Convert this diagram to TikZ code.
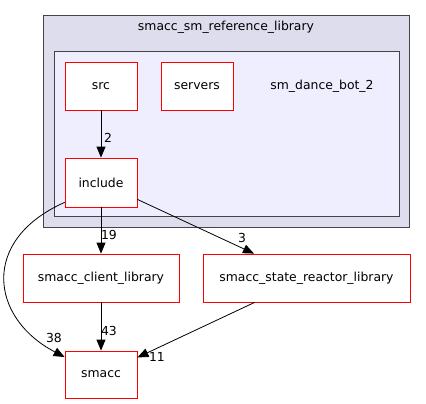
\documentclass[tikz,border=0pt]{standalone}
\usepackage{fontspec}
\setmainfont{DejaVu Sans}
\usetikzlibrary{arrows.meta}
\definecolor{outerfill}{HTML}{DDDDEE}
\definecolor{innerfill}{HTML}{EEEEFF}
\definecolor{clborder}{HTML}{444444}
\tikzset{
  dirbox/.style={draw=red, fill=white, line width=0.8pt, inner sep=0pt, font=\fontsize{12.4}{14}\selectfont},
  dep/.style={draw=black, line width=0.8pt, -{Triangle[length=11pt,width=9pt]}},
  lbl/.style={font=\fontsize{12.4}{14}\selectfont, inner sep=0pt},
  cluster/.style={draw=clborder, line width=1pt}
}
\begin{document}
\begin{tikzpicture}[x=1pt,y=-1pt]
\useasboundingbox (0,0) rectangle (426,404);
% clusters
\draw[cluster, fill=outerfill] (43,16) rectangle (409,227);
\node[lbl] (outerlbl) at (226,27) {smacc\_sm\_reference\_library};
\draw[cluster, fill=innerfill] (54.5,52) rectangle (399,216.5);
\node[lbl] (innerlbl) at (322,86) {sm\_dance\_bot\_2};
% nodes
\node[dirbox, minimum width=72pt, minimum height=48pt] (src) at (101,86) {src};
\node[dirbox, minimum width=72pt, minimum height=48pt] (servers) at (197,86) {servers};
\node[dirbox, minimum width=72pt, minimum height=49pt] (include) at (101,182.5) {include};
\node[dirbox, minimum width=156pt, minimum height=48pt] (client) at (101,278) {smacc\_client\_library};
\node[dirbox, minimum width=207pt, minimum height=48pt] (state) at (306.5,278) {smacc\_state\_reactor\_library};
\node[dirbox, minimum width=72pt, minimum height=47pt] (smacc) at (101,374.5) {smacc};
% edges
\draw[dep] (src) -- (include);
\draw[dep] (include) -- (client);
\draw[dep] (include) -- (state);
\draw[dep] (client) -- (smacc);
\draw[dep] (state) -- (smacc);
\coordinate (cA) at (-20,240);
\coordinate (cB) at (-10,318);
\draw[dep] (include.south west) ++(0,-5) .. controls (cA) and (cB) .. (smacc.north west |- 0,357);
% labels
\node[lbl] (l2) at (108,138) {2};
\node[lbl] (l19) at (109,235) {19};
\node[lbl] (l3) at (242,238) {3};
\node[lbl] (l38) at (54,338) {38};
\node[lbl] (l43) at (109,331) {43};
\node[lbl] (l11) at (157,357) {11};
\end{tikzpicture}
\end{document}
